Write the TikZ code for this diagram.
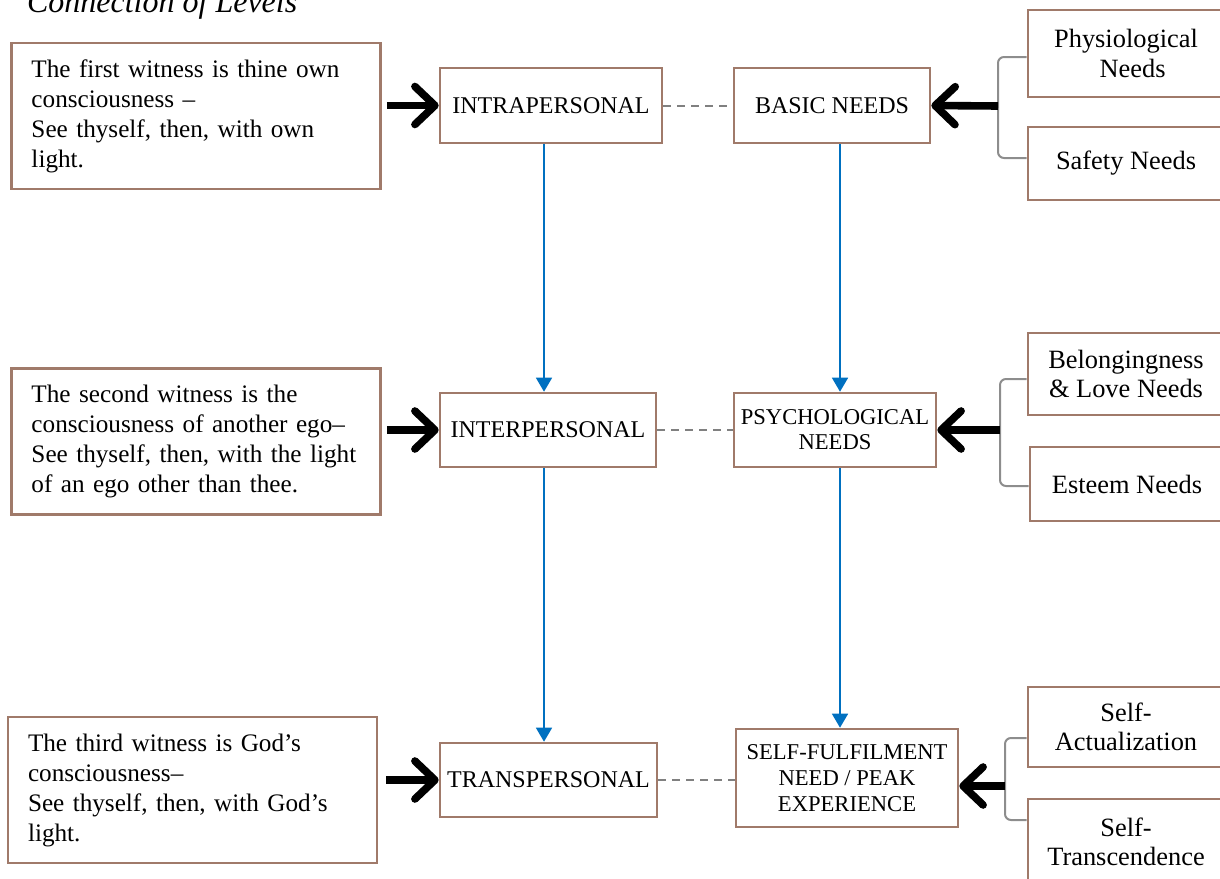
\documentclass[tikz,border=0pt]{standalone}
\usepackage{fontspec}
\setmainfont{Liberation Serif}
\usepackage{tikz}
\usetikzlibrary{arrows.meta,positioning}

\definecolor{boxbrown}{RGB}{160,122,106}
\definecolor{flowblue}{RGB}{0,112,192}
\definecolor{linkgray}{RGB}{128,128,128}

\tikzset{
  box/.style={draw=boxbrown, line width=1.3pt, inner sep=0pt, fill=white},
  witness/.style={box, minimum width=184pt, minimum height=73pt, align=left,
    text width=164.5pt, inner xsep=10pt, font=\fontsize{12.6}{15}\selectfont},
  level/.style={box, align=center, font=\fontsize{12}{13}\selectfont},
  need/.style={box, align=center, minimum width=98pt, font=\fontsize{13.2}{14.8}\selectfont},
  flow/.style={draw=flowblue, line width=0.8pt, -{Triangle[length=7pt,width=8pt]}},
  link/.style={draw=linkgray, line width=1pt, dash pattern=on 4pt off 3pt},
  push/.style={line width=3.8pt, -{Straight Barb[length=10pt,width=19pt,round]}},
  brace/.style={draw=linkgray!90, line width=1pt, rounded corners=3pt}
}

\begin{document}
\begin{tikzpicture}[x=0.5pt, y=-0.5pt]
	\useasboundingbox (0,0) rectangle (1220,878);

	\node (title) at (20,12) [anchor=base west, font=\fontsize{16}{18}\itshape] {Connection of Levels};

	% witnesses
	\node (w1) at (196,116)   [witness] {The first witness is thine own\\consciousness –\\See thyself, then, with own\\light.};
	\node (w2) at (196,441.5) [witness] {The second witness is the\\consciousness of another ego–\\See thyself, then, with the light\\of an ego other than thee.};
	\node (w3) at (192.5,790) [witness] {The third witness is God’s\\consciousness–\\See thyself, then, with God’s\\light.};

	% levels
	\node (intra) at (551,105.5) [level, minimum width=111pt, minimum height=37.5pt] {INTRAPERSONAL};
	\node (inter) at (548,430)   [level, minimum width=108pt, minimum height=37pt]   {INTERPERSONAL};
	\node (trans) at (548.5,780) [level, minimum width=108.5pt, minimum height=37pt] {TRANSPERSONAL};

	\node (basic) at (832,105.5) [level, minimum width=98pt, minimum height=37.5pt] {BASIC NEEDS};
	\node (psych) at (835,430)   [level, minimum width=101pt, minimum height=37pt, font=\fontsize{11.3}{12.5}\selectfont] {PSYCHOLOGICAL\\NEEDS};
	\node (self)  at (847,778)   [level, minimum width=111pt, minimum height=49pt, font=\fontsize{11.3}{13}\selectfont] {SELF-FULFILMENT\\NEED / PEAK\\EXPERIENCE};

	% needs
	\node (phys)   at (1126,53.5)  [need, minimum height=43.5pt] {Physiological\\\ \ Needs};
	\node (safety) at (1126,163.5) [need, minimum height=36.5pt] {Safety Needs};
	\node (belong) at (1126,374)   [need, minimum height=41pt]   {Belongingness\\\& Love Needs};
	\node (esteem) at (1127,484)   [need, minimum width=97pt, minimum height=37pt] {Esteem Needs};
	\node (sact)   at (1126,727)   [need, minimum height=40pt]   {Self-\\Actualization};
	\node (strans) at (1126,842)   [need, minimum height=43pt]   {Self-\\Transcendence};

	\coordinate (b1) at (998,106);
	\coordinate (b2) at (1000,430);
	\coordinate (b3) at (1005,786);

	\draw [brace] ([yshift=-1.75pt]phys.west) -| (b1) |- ([yshift=2.75pt]safety.west);
	\draw [brace] ([yshift=-2.5pt]belong.west) -| (b2) |- ([yshift=-1pt]esteem.west);
	\draw [brace] ([yshift=-5.5pt]sact.west) -| (b3) |- ([yshift=11pt]strans.west);

	\draw [push] (b1) -- (basic.east);
	\draw [push] (b2) -- (psych.east);
	\draw [push] (b3) -- (b3 -| self.east);

	\draw [push, shorten <=2.5pt] (w1.east |- intra.west) -- (intra.west);
	\draw [push, shorten <=2.5pt] (w2.east |- inter.west) -- (inter.west);
	\draw [push, shorten <=4pt]   (w3.east |- trans.west) -- (trans.west);

	\draw [link] (intra) -- (basic);
	\draw [link] (inter) -- (psych);
	\draw [link] (trans.east) -- (trans.east -| self.west);

	\draw [flow] ([xshift=-2pt]inter.north |- intra.south) -- ([xshift=-2pt]inter.north);
	\draw [flow] ([xshift=-2pt]inter.south) -- ([xshift=-2pt]inter.south |- trans.north);
	\draw [flow] ([xshift=4pt]basic.south) -- ([xshift=4pt]basic.south |- psych.north);
	\draw [flow] ([xshift=2.5pt]psych.south) -- ([xshift=2.5pt]psych.south |- self.north);
\end{tikzpicture}
\end{document}
